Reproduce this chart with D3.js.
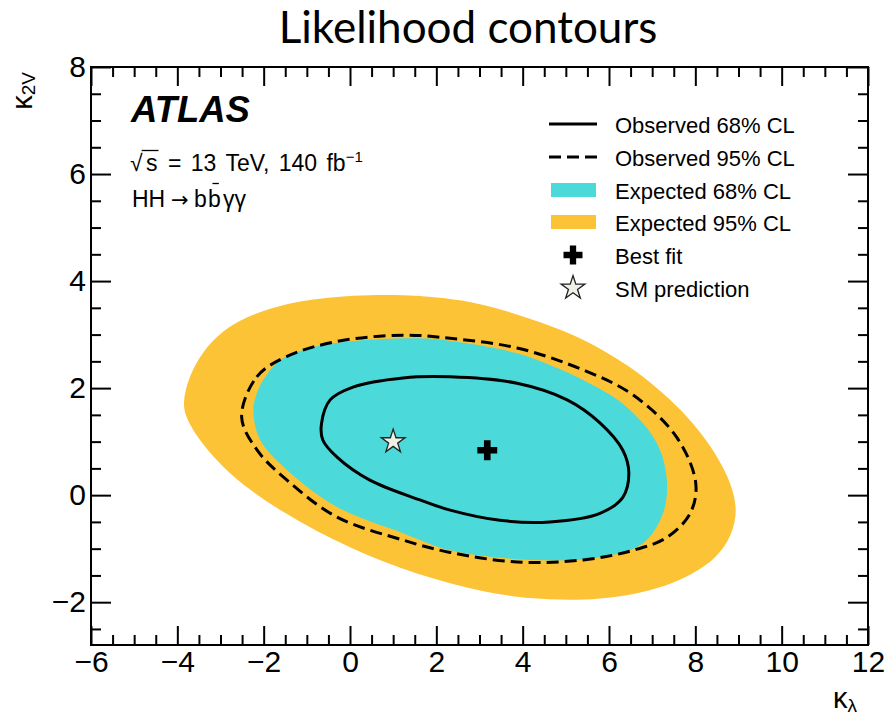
<!DOCTYPE html>
<html>
<head>
<meta charset="utf-8">
<script src="https://cdn.jsdelivr.net/npm/d3@7"></script>
<style>
  body { margin: 0; background: #fff; }
  text { font-family: "Liberation Sans", Arial, sans-serif; fill: #000; }
</style>
</head>
<body>
<svg id="chart" width="885" height="718"></svg>
<script>
// Axis ranges and tick values
const xDomain = [-6, 12];
const yDomain = [-2.8, 8];
const xMajorTicks = [-6, -4, -2, 0, 2, 4, 6, 8, 10, 12];
const yMajorTicks = [-2, 0, 2, 4, 6, 8];
const xTickLabels = ["\u22126", "\u22124", "\u22122", "0", "2", "4", "6", "8", "10", "12"];
const yTickLabels = ["\u22122", "0", "2", "4", "6", "8"];

// Contour boundaries as (kappa_lambda, kappa_2V) points
const expected95 = [
  [-3.89, 1.71], [-3.73, 2.23], [-3.40, 2.70], [-3.01, 3.02], [-2.62, 3.25],
  [-1.85, 3.50], [-1.08, 3.64], [-0.31, 3.71], [0.46, 3.74], [1.23, 3.74],
  [2.01, 3.70], [2.78, 3.62], [3.50, 3.47], [4.25, 3.28], [5.00, 3.06],
  [5.75, 2.77], [6.45, 2.42], [7.10, 2.02], [7.70, 1.58], [8.25, 1.05],
  [8.68, 0.50], [8.94, -0.05], [8.95, -0.50], [8.70, -0.98], [8.25, -1.33],
  [7.64, -1.60], [6.95, -1.79], [6.18, -1.91], [5.40, -1.96], [4.63, -1.95],
  [3.87, -1.91], [3.09, -1.80], [2.32, -1.65], [1.55, -1.47], [0.78, -1.25],
  [0.00, -0.98], [-0.78, -0.67], [-1.55, -0.32], [-2.30, 0.08], [-2.95, 0.52],
  [-3.45, 0.98], [-3.78, 1.40]
];
const expected68 = [
  [-2.24, 1.59], [-2.16, 1.90], [-2.01, 2.15], [-1.62, 2.52], [-0.93, 2.75],
  [0.07, 2.88], [1.62, 2.93], [2.32, 2.88], [3.87, 2.65], [5.40, 2.15],
  [6.42, 1.64], [7.11, 0.97], [7.34, 0.28], [7.25, -0.34], [6.79, -0.90],
  [5.79, -1.16], [4.24, -1.21], [2.32, -1.03], [1.23, -0.71], [-0.30, -0.22],
  [-1.46, 0.47], [-2.08, 1.03]
];
const observed95 = [
  [-2.51, 1.46], [-2.16, 2.21], [-1.47, 2.59], [-0.31, 2.87], [1.23, 2.99],
  [2.32, 2.93], [3.87, 2.75], [5.40, 2.34], [6.56, 1.87], [7.57, 1.08],
  [8.01, 0.22], [7.88, -0.34], [7.34, -0.79], [6.56, -1.03], [5.40, -1.21],
  [3.87, -1.25], [2.32, -1.07], [1.23, -0.84], [-0.30, -0.41], [-1.46, 0.28],
  [-2.15, 0.84]
];
const observed68 = [
  [-0.66, 1.34], [-0.46, 1.78], [0.07, 2.02], [1.23, 2.19], [2.32, 2.21],
  [3.87, 2.09], [5.03, 1.78], [5.79, 1.35], [6.32, 0.84], [6.46, 0.41],
  [6.32, -0.04], [5.79, -0.34], [4.63, -0.50], [3.47, -0.47], [2.32, -0.28],
  [1.62, -0.09], [0.46, 0.28], [-0.30, 0.71], [-0.63, 1.03]
];
const bestFit = [3.18, 0.84];
const smPrediction = [1, 1];

const legendLabels = ["Observed 68% CL", "Observed 95% CL", "Expected 68% CL",
                      "Expected 95% CL", "Best fit", "SM prediction"];

const colCyan = "#4bd9d9";
const colOrange = "#fcc336";

const svg = d3.select("#chart");
const L = 91, R = 868, T = 67, B = 645;

const x = d3.scaleLinear().domain(xDomain).range([L, R]);
const y = d3.scaleLinear().domain(yDomain).range([B, T]);

// Title
svg.append("text")
  .attr("x", 468).attr("y", 43)
  .attr("text-anchor", "middle")
  .style("font-family", "Lato, 'Open Sans', sans-serif")
  .style("font-size", "44px")
  .text("Likelihood contours");

// Contours
const smoothContour = d3.line()
  .x(d => x(d[0])).y(d => y(d[1]))
  .curve(d3.curveBasisClosed);
const contour = d3.line()
  .x(d => x(d[0])).y(d => y(d[1]))
  .curve(d3.curveCatmullRomClosed.alpha(0.5));

const plot = svg.append("g");
plot.append("path").attr("d", smoothContour(expected95)).attr("fill", colOrange);
plot.append("path").attr("d", contour(expected68)).attr("fill", colCyan);
plot.append("path").attr("d", contour(observed95))
  .attr("fill", "none").attr("stroke", "#000").attr("stroke-width", 3)
  .attr("stroke-dasharray", "12,6");
plot.append("path").attr("d", contour(observed68))
  .attr("fill", "none").attr("stroke", "#000").attr("stroke-width", 3);

// Markers
const crossPath = d3.symbol().type(d3.symbolCross).size(220)();
const starPath = d3.symbol().type(d3.symbolStar).size(175)();

plot.append("path").attr("d", crossPath)
  .attr("transform", `translate(${x(bestFit[0])},${y(bestFit[1])})`)
  .attr("fill", "#000");
plot.append("path").attr("d", starPath)
  .attr("transform", `translate(${x(smPrediction[0])},${y(smPrediction[1])})`)
  .attr("fill", "#eef2e6").attr("stroke", "#222").attr("stroke-width", 1.3);

// Axes with inward ticks on all four sides
const xMinor = d3.range(xDomain[0], xDomain[1] + 0.001, 0.5).filter(v => !xMajorTicks.includes(v));
const yMinor = d3.range(-2.5, yDomain[1] + 0.001, 0.5).filter(v => !yMajorTicks.includes(v));

function styleAxis(g) {
  g.select(".domain").remove();
  g.selectAll(".tick line").attr("stroke", "#000").attr("stroke-width", 2);
}
function styleLabels(g) {
  g.selectAll("text").style("font-size", "30px")
    .style("font-family", "'Liberation Sans', Arial, sans-serif").attr("fill", "#000");
}

svg.append("g").attr("transform", `translate(0,${B})`)
  .call(d3.axisBottom(x).tickValues(xMajorTicks).tickSizeInner(-19).tickSizeOuter(0)
    .tickPadding(6).tickFormat((d, i) => xTickLabels[i]))
  .call(styleAxis).call(styleLabels);
svg.append("g").attr("transform", `translate(0,${B})`)
  .call(d3.axisBottom(x).tickValues(xMinor).tickSizeInner(-10).tickSizeOuter(0).tickFormat(""))
  .call(styleAxis);
svg.append("g").attr("transform", `translate(0,${T})`)
  .call(d3.axisTop(x).tickValues(xMajorTicks).tickSizeInner(-19).tickSizeOuter(0).tickFormat(""))
  .call(styleAxis);
svg.append("g").attr("transform", `translate(0,${T})`)
  .call(d3.axisTop(x).tickValues(xMinor).tickSizeInner(-10).tickSizeOuter(0).tickFormat(""))
  .call(styleAxis);

svg.append("g").attr("transform", `translate(${L},0)`)
  .call(d3.axisLeft(y).tickValues(yMajorTicks).tickSizeInner(-20).tickSizeOuter(0)
    .tickPadding(5).tickFormat((d, i) => yTickLabels[i]))
  .call(styleAxis).call(styleLabels);
svg.append("g").attr("transform", `translate(${L},0)`)
  .call(d3.axisLeft(y).tickValues(yMinor).tickSizeInner(-10).tickSizeOuter(0).tickFormat(""))
  .call(styleAxis);
svg.append("g").attr("transform", `translate(${R},0)`)
  .call(d3.axisRight(y).tickValues(yMajorTicks).tickSizeInner(-20).tickSizeOuter(0).tickFormat(""))
  .call(styleAxis);
svg.append("g").attr("transform", `translate(${R},0)`)
  .call(d3.axisRight(y).tickValues(yMinor).tickSizeInner(-10).tickSizeOuter(0).tickFormat(""))
  .call(styleAxis);

// Frame
svg.append("rect").attr("x", L).attr("y", T).attr("width", R - L).attr("height", B - T)
  .attr("fill", "none").attr("stroke", "#000").attr("stroke-width", 2);

// Axis titles
const xTitle = svg.append("text").attr("x", 857).attr("y", 708).attr("text-anchor", "end")
  .style("font-size", "29px");
xTitle.append("tspan").text("\u03ba");
xTitle.append("tspan").attr("dy", 4).style("font-size", "19px").text("\u03bb");

const yTitle = svg.append("text").attr("transform", "translate(32,72) rotate(-90)")
  .attr("text-anchor", "end").style("font-size", "29px");
yTitle.append("tspan").text("\u03ba");
yTitle.append("tspan").attr("dy", 3).style("font-size", "19px").text("2V");

// ATLAS label and analysis text
svg.append("text").attr("x", 131).attr("y", 122)
  .style("font-size", "36.5px").style("font-weight", "bold").style("font-style", "italic")
  .text("ATLAS");

const energy = svg.append("text").attr("y", 171).style("font-size", "23px");
energy.append("tspan").attr("x", 130).text("\u221a");
energy.append("tspan").attr("x", 146).text("s");
energy.append("tspan").attr("x", 168).style("word-spacing", "3px").text("= 13 TeV, 140 fb");
energy.append("tspan").attr("dy", -9).style("font-size", "15px").text("\u22121");
const rootExt = energy.node().getExtentOfChar(0);
const sExt = energy.node().getExtentOfChar(1);
svg.append("line")
  .attr("x1", rootExt.x + rootExt.width - 1).attr("x2", sExt.x + sExt.width + 1)
  .attr("y1", 150.5).attr("y2", 150.5)
  .attr("stroke", "#000").attr("stroke-width", 1.3);

const channel = svg.append("text").attr("y", 207).style("font-size", "23px");
channel.append("tspan").attr("x", 132).text("HH");
channel.append("tspan").attr("x", 171).style("font-family", "'DejaVu Sans', sans-serif")
  .style("font-size", "21px").text("\u2192");
channel.append("tspan").attr("x", 194).text("b");
channel.append("tspan").attr("x", 208).text("b");
channel.append("tspan").attr("x", 223).text("\u03b3\u03b3");
const bExt = channel.node().getExtentOfChar(4);
svg.append("line")
  .attr("x1", bExt.x + bExt.width * 0.35).attr("x2", bExt.x + bExt.width * 0.85)
  .attr("y1", 183.5).attr("y2", 183.5)
  .attr("stroke", "#000").attr("stroke-width", 1.3);

// Legend
const legY = [124, 157, 190, 222, 255, 288];
const leg = svg.append("g");
leg.append("line").attr("x1", 549).attr("x2", 597).attr("y1", legY[0]).attr("y2", legY[0])
  .attr("stroke", "#000").attr("stroke-width", 3);
leg.append("line").attr("x1", 549).attr("x2", 597).attr("y1", legY[1]).attr("y2", legY[1])
  .attr("stroke", "#000").attr("stroke-width", 3).attr("stroke-dasharray", "12,6");
leg.append("rect").attr("x", 551).attr("y", legY[2] - 7).attr("width", 45).attr("height", 14)
  .attr("fill", colCyan);
leg.append("rect").attr("x", 551).attr("y", legY[3] - 7).attr("width", 45).attr("height", 14)
  .attr("fill", colOrange);
leg.append("path").attr("d", d3.symbol().type(d3.symbolCross).size(200)())
  .attr("transform", `translate(573,${legY[4]})`).attr("fill", "#000");
leg.append("path").attr("d", d3.symbol().type(d3.symbolStar).size(175)())
  .attr("transform", `translate(573,${legY[5]})`)
  .attr("fill", "#eef2e6").attr("stroke", "#222").attr("stroke-width", 1.3);
leg.selectAll("text.lab").data(legendLabels).enter().append("text").attr("class", "lab")
  .attr("x", 615).attr("y", (d, i) => legY[i] + 8.5)
  .style("font-size", "22px").text(d => d);
</script>
</body>
</html>
